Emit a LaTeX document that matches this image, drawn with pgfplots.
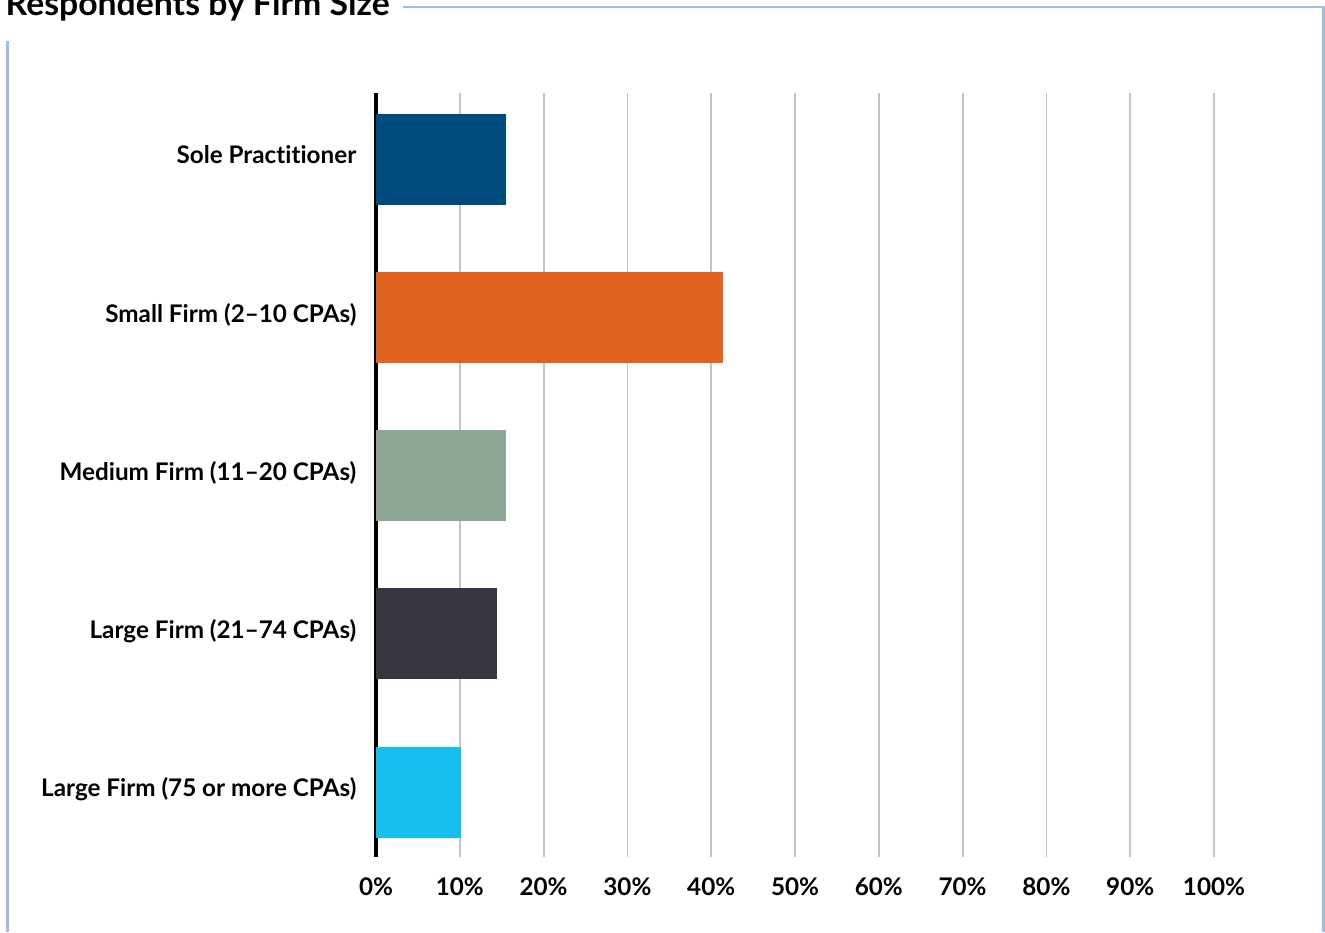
\documentclass[border=0pt]{standalone}
\usepackage{fontspec}
\setmainfont{Lato}[Ligatures={NoCommon}]
\usepackage{pgfplots}
\pgfplotsset{compat=1.18}

\definecolor{soleblue}{HTML}{004B7D}
\definecolor{smallorange}{HTML}{E06320}
\definecolor{medsage}{HTML}{8EA795}
\definecolor{largedark}{HTML}{363741}
\definecolor{largecyan}{HTML}{16BFEF}
\definecolor{framecol}{HTML}{9DBBE3}
\definecolor{gridcol}{HTML}{C4C4C4}

\begin{document}
\begin{tikzpicture}
\useasboundingbox (0,0) rectangle (13.25,9.32);
\clip (0,0) rectangle (13.25,9.32);

% title and frame
\node[anchor=base west, inner sep=0, font=\fontsize{9.6}{11}\selectfont\bfseries]
  at (0.05,9.163) {Respondents by Firm Size};
\draw[framecol, line width=0.025cm] (4.03,9.25) -- (13.235,9.25) -- (13.235,0);
\draw[framecol, line width=0.028cm] (0.075,0) -- (0.075,8.91);

\begin{axis}[
  at={(3.76cm,0.75cm)}, anchor=south west,
  scale only axis, width=8.38cm, height=7.64cm,
  xbar, bar width=0.91cm, bar shift=0pt,
  xmin=0, xmax=100, ymin=-0.42, ymax=4.41, y dir=reverse,
  xtick={0,10,...,100}, ytick={0,1,2,3,4},
  yticklabels={Sole Practitioner, Small Firm (2--10 CPAs), Medium Firm (11--20 CPAs),
               Large Firm (21--74 CPAs), Large Firm (75 or more CPAs)},
  xticklabel={\pgfmathprintnumber{\tick}\%},
  /pgf/number format/assume math mode=true,
  major tick length=0pt,
  xmajorgrids, grid style={gridcol, line width=0.018cm},
  separate axis lines,
  axis x line*=bottom, axis y line*=left,
  x axis line style={draw=none},
  y axis line style={black, line width=0.04cm},
  tick label style={font=\fontsize{6.9}{8}\selectfont\bfseries, text=black, inner sep=0pt},
  xticklabel style={anchor=base, yshift=-0.385cm},
  yticklabel style={anchor=base east, xshift=-0.19cm, yshift=-0.045cm},
  clip=false,
]
\addplot[draw=none, fill=soleblue] coordinates {(15.5,0)};
\addplot[draw=none, fill=smallorange] coordinates {(41.4,1)};
\addplot[draw=none, fill=medsage] coordinates {(15.5,2)};
\addplot[draw=none, fill=largedark] coordinates {(14.4,3)};
\addplot[draw=none, fill=largecyan] coordinates {(10.1,4)};
\end{axis}
\end{tikzpicture}
\end{document}
